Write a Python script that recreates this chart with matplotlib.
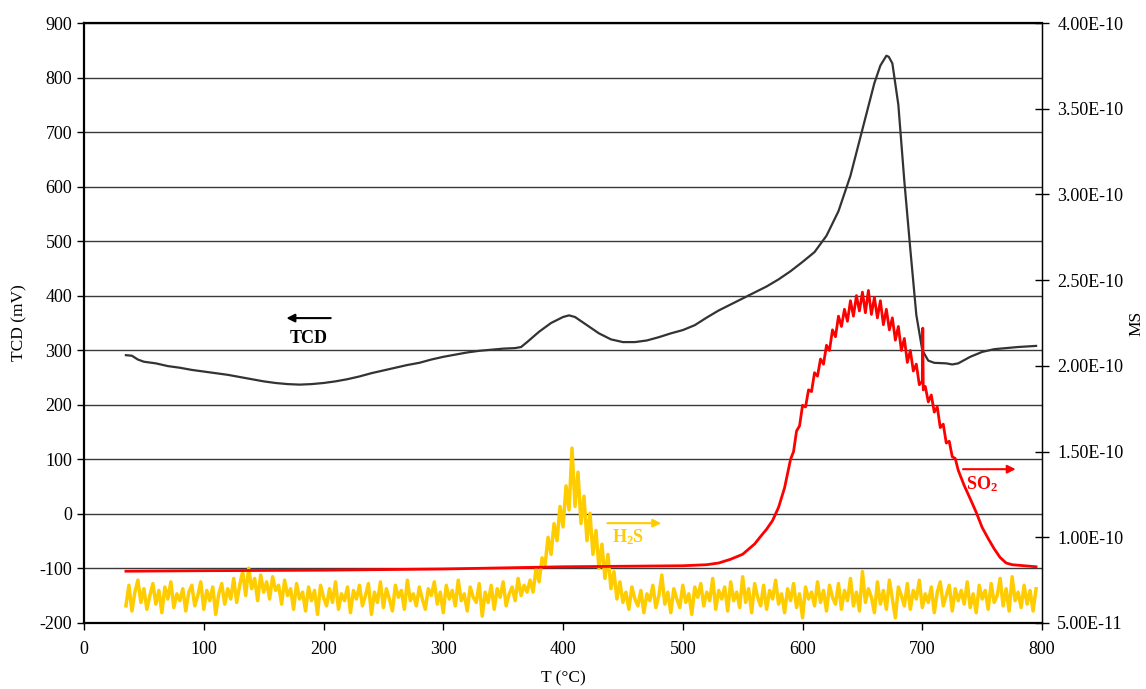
import numpy as np
import matplotlib
matplotlib.use("Agg")
import matplotlib.pyplot as plt
from matplotlib.ticker import FuncFormatter, MultipleLocator

plt.rcParams["font.family"] = ["Liberation Serif", "DejaVu Serif"]
plt.rcParams["mathtext.fontset"] = "custom"
plt.rcParams["mathtext.bf"] = "Liberation Serif:bold"
plt.rcParams["mathtext.rm"] = "Liberation Serif"
plt.rcParams["axes.unicode_minus"] = False

# TCD signal (mV), left axis
tcd_t = [35, 40, 45, 50, 60, 70, 80, 90, 100, 110, 120, 130, 140, 150, 160, 170, 180, 190,
         200, 210, 220, 230, 240, 250, 260, 270, 280, 290, 300, 310, 320, 330, 340, 350,
         360, 365, 370, 380, 390, 400, 405, 410, 420, 430, 440, 450, 460, 470, 480, 490,
         500, 510, 520, 530, 540, 550, 560, 570, 580, 590, 600, 610, 620, 630, 640, 650,
         660, 665, 670, 672, 675, 680, 685, 690, 695, 700, 705, 710, 720, 725, 730, 740,
         750, 760, 770, 780, 795]
tcd_mv = [291, 290, 283, 279, 276, 271, 268, 264, 261, 258, 255, 251, 247, 243, 240, 238, 237, 238,
          240, 243, 247, 252, 258, 263, 268, 273, 277, 283, 288, 292, 296, 299, 301, 303,
          304, 306, 315, 334, 350, 361, 364, 361, 346, 331, 320, 315, 315, 318, 324, 331,
          337, 346, 360, 373, 384, 395, 406, 417, 430, 445, 462, 480, 510, 555, 620, 705,
          790, 822, 840, 838, 826, 750, 610, 485, 365, 300, 281, 277, 276, 274, 276, 288,
          297, 302, 304, 306, 308]

# SO2 mass signal (units of 1e-12), right axis
so2_t = [35, 100, 200, 300, 400, 450, 500, 520, 530, 540, 550, 560, 565, 570, 575, 580, 585, 590,
         592.5, 595, 597.5, 600, 602.5, 605, 607.5, 610, 612.5, 615, 617.5, 620, 622.5, 625,
         627.5, 630, 632.5, 635, 637.5, 640, 642.5, 645, 647.5, 650, 652.5, 655, 657.5, 660,
         662.5, 665, 667.5, 670, 672.5, 675, 677.5, 680, 682.5, 685, 687.5, 690, 692.5, 695,
         697.5, 700, 700.4, 700.8, 702.5, 705, 707.5, 710, 712.5, 715, 717.5, 720, 722.5, 725,
         727.5, 730, 735, 740, 745, 750, 755, 760, 765, 770, 775, 780, 790, 795]
so2_ms = [80.2, 80.5, 80.8, 81.5, 82.8, 83.1, 83.4, 84.0, 85.0, 87.2, 90.1, 96.1, 100.5, 104.7, 109.8, 117.5, 128.9, 145.5,
          150, 162, 165, 177, 176, 186, 185, 196, 194, 204, 201, 212, 209, 221,
          217, 229, 223, 233, 226, 238, 229, 241, 232, 243, 231, 244, 230, 240,
          228, 238, 224, 233, 221, 228, 215, 223, 209, 216, 202, 209, 197, 201,
          189, 191, 222, 186, 188, 179, 183, 173, 176, 164, 166, 155, 156, 147,
          146, 139.1, 130.2, 122.5, 114.6, 105.7, 99.3, 93.3, 88.2, 85.0, 84.0, 83.7, 83.1, 82.8]

# H2S mass signal (units of 1e-12), right axis, every 2.5 degC from 35 to 795
h2s_ms = [
    60, 72, 57, 68, 75, 62, 70, 58, 66, 73, 61, 69, 56, 71, 64, 74, 59, 67, 63, 70,
    57, 68, 72, 60, 66, 74, 58, 69, 63, 71, 55, 67, 73, 61, 70, 64, 76, 62, 72, 80,
    66, 82, 70, 76, 63, 78, 68, 74, 64, 77, 69, 72, 61, 75, 66, 70, 58, 73, 64, 68,
    57, 71, 63, 69, 55, 72, 65, 60, 70, 62, 74, 58, 67, 63, 71, 56, 69, 64, 72, 60,
    66, 73, 55, 68, 62, 74, 59, 70, 64, 57, 72, 65, 69, 58, 75, 63, 67, 60, 71, 64,
    58, 70, 66, 74, 61, 68, 56, 72, 64, 69, 60, 75, 63, 67, 57, 71, 65, 62, 73, 54,
    68, 62, 72, 58, 70, 65, 74, 60, 67, 71, 63, 76, 66, 72, 68, 75, 68, 82, 74, 88,
    84, 100, 90, 108, 98, 118, 106, 130, 116, 152, 118, 138, 108, 124, 98, 114, 90, 104, 82, 96,
    76, 90, 70, 80, 64, 74, 62, 68, 58, 71, 64, 60, 69, 56, 67, 63, 72, 59, 66, 78,
    61, 68, 56, 70, 64, 59, 72, 62, 67, 55, 71, 65, 73, 60, 68, 63, 76, 58, 69, 64,
    71, 57, 74, 63, 68, 59, 77, 62, 70, 56, 73, 65, 60, 72, 58, 69, 64, 75, 61, 67,
    56, 70, 63, 73, 59, 67, 53, 71, 64, 68, 60, 74, 62, 69, 57, 72, 65, 61, 73, 58,
    69, 63, 76, 60, 68, 57, 80, 62, 70, 65, 56, 74, 61, 69, 58, 75, 64, 53, 71, 66,
    60, 73, 58, 69, 64, 75, 59, 67, 62, 71, 56, 68, 74, 60, 66, 72, 57, 70, 63, 69,
    61, 74, 59, 67, 56, 72, 64, 69, 58, 73, 62, 66, 76, 60, 70, 57, 77, 63, 68, 59,
    72, 61, 69, 57, 70,
]
h2s_t = np.arange(len(h2s_ms)) * 2.5 + 35

ms_ticks = [5e-11, 1e-10, 1.5e-10, 2e-10, 2.5e-10, 3e-10, 3.5e-10, 4e-10]

fig = plt.figure(figsize=(11.46, 6.89), dpi=100)
ax = fig.add_axes([0.0733, 0.0958, 0.836, 0.8708])
ax2 = ax.twinx()

ax.plot(tcd_t, tcd_mv, color="#333333", lw=1.6)
ax2.plot(h2s_t, np.array(h2s_ms) * 1e-12, color="#FFCC00", lw=2.5)
ax2.plot(so2_t, np.array(so2_ms) * 1e-12, color="#FF0000", lw=2.0)

ax.set_xlim(0, 800)
ax.set_ylim(-200, 900)
ax2.set_ylim(5e-11, 4e-10)
ax.xaxis.set_major_locator(MultipleLocator(100))
ax.yaxis.set_major_locator(MultipleLocator(100))
ax2.set_yticks(ms_ticks)
ax2.yaxis.set_major_formatter(FuncFormatter(lambda v, p: f"{v:.2E}"))

ax.grid(axis="y", color="#3a3a3a", lw=1.0)
ax.set_axisbelow(True)
ax.tick_params(axis="both", direction="out", length=5, width=1, labelsize=13, colors="black")
ax.tick_params(axis="x", pad=8)
ax2.tick_params(axis="y", direction="inout", length=10, width=1, labelsize=13, pad=6)

for s in ["left", "bottom", "top"]:
    ax.spines[s].set_linewidth(1.6)
ax2.spines["right"].set_linewidth(1.0)
for s in ["left", "bottom", "top"]:
    ax2.spines[s].set_visible(False)

ax.set_xlabel("T (°C)", fontsize=12.5, va="center")
ax.xaxis.set_label_coords(0.5, -0.092)
ax.set_ylabel("TCD (mV)", fontsize=12.5, va="center")
ax.yaxis.set_label_coords(-0.067, 0.5)
ax2.set_ylabel("MS", fontsize=12.5, va="center")
ax2.yaxis.set_label_coords(1.099, 0.5)

# series labels with arrows (left-axis units)
arrow = dict(arrowstyle="-|>", lw=1.5, mutation_scale=12, shrinkA=0, shrinkB=0)
ax.annotate("", xy=(169, 359), xytext=(206, 359), arrowprops=dict(arrow, color="black"))
ax.text(188, 322, "TCD", fontsize=13, fontweight="bold", ha="center", va="center")
ax.annotate("", xy=(482, -17), xytext=(437, -17), arrowprops=dict(arrow, color="#FFCC00"))
ax.text(454, -42, r"$\mathbf{H_2S}$", fontsize=13, color="#FFCC00", ha="center", va="center")
ax.annotate("", xy=(778, 82), xytext=(734, 82), arrowprops=dict(arrow, color="#FF0000"))
ax.text(750, 55, r"$\mathbf{SO_2}$", fontsize=13, color="#FF0000", ha="center", va="center")

fig.savefig("out.png", dpi=100)
